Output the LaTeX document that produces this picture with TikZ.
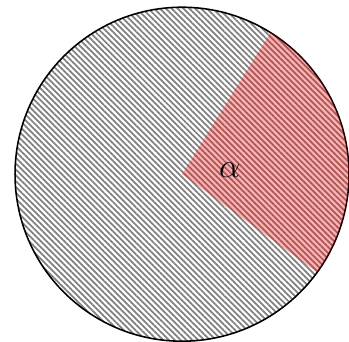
\documentclass[tikz,border=0pt]{standalone}
\usetikzlibrary{patterns.meta}

\begin{document}
\begin{tikzpicture}[
    mydisc/.style={thick, pattern={Lines[angle=-45, distance=2.12pt, line width=0.9pt]}, pattern color=black!50},
    mysector/.style={fill=red, fill opacity=0.3},
    mylabel/.style={font=\LARGE}
]
    \useasboundingbox (-3.27, -3) rectangle (3, 3.13);

    % Disc with hatching
    \draw[mydisc] (0, 0) circle (3);

    % Sector of angle alpha
    \fill[mysector] (0, 0) -- (-36:3) arc (-36:58:3) -- cycle;

    % Angle label
    \node[mylabel] (alpha) at (5:0.86) {$\alpha$};
\end{tikzpicture}
\end{document}
